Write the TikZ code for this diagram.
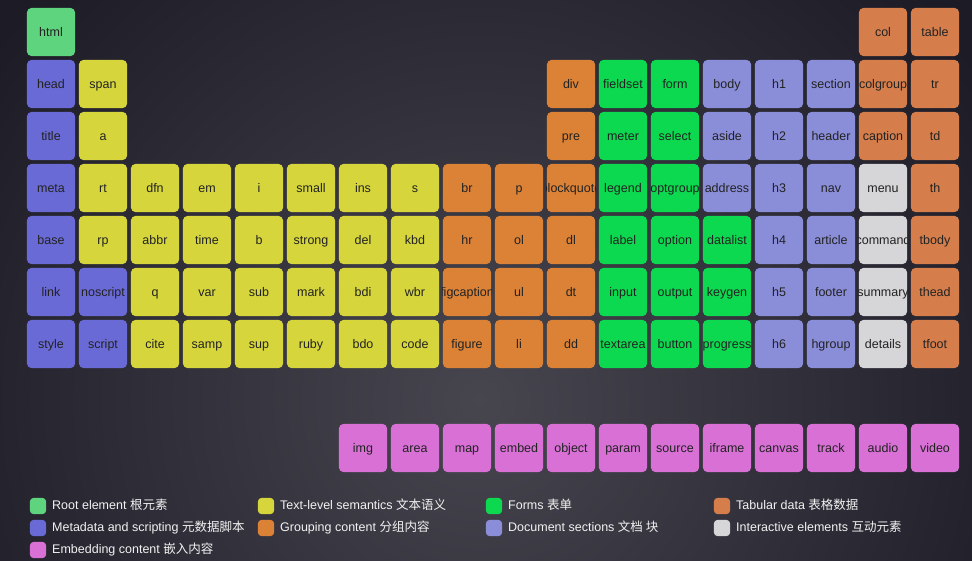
\documentclass[tikz,border=0pt]{standalone}
\usepackage{fontspec}
\setmainfont{Liberation Sans}
\newfontfamily\cjk{Noto Sans CJK SC}
\definecolor{bgin}{HTML}{47464F}
\definecolor{bgout}{HTML}{1D1B26}
\definecolor{kroot}{HTML}{5FD47F}
\definecolor{kmeta}{HTML}{6A6AD6}
\definecolor{ktext}{HTML}{D6D63C}
\definecolor{kgroup}{HTML}{DB8237}
\definecolor{kform}{HTML}{0CD94F}
\definecolor{ksect}{HTML}{8A8DD8}
\definecolor{ktab}{HTML}{D57D4B}
\definecolor{kinter}{HTML}{D6D6D8}
\definecolor{kembed}{HTML}{D870D6}
\definecolor{ink}{HTML}{222222}
\definecolor{legtext}{HTML}{F2F2F2}
\newcommand\htag[4]{%
  \node[cellbox] (c-#4) at ({51+52*(#1-1)},{32+52*(#2-1)}) {};
  \fill[#3, rounded corners=5pt] (c-#4.south west) rectangle (c-#4.north east);
  \begin{scope}
  \clip (c-#4.south west) rectangle (c-#4.north east);
  \node[celltext] (t-#4) at (c-#4) {#4};
  \end{scope}}
\newcommand\legitem[5]{%
  \node[legbox] (l-#4) at ({#1+8},#2) {};
  \fill[#3, rounded corners=4pt] (l-#4.south west) rectangle (l-#4.north east);
  \node[legtext, anchor=west] (lt-#4) at ({#1+22},#2) {#5};}
\begin{document}
\begin{tikzpicture}[x=1pt,y=-1pt,
  cellbox/.style={minimum width=48pt, minimum height=48pt, inner sep=0pt, draw=none},
  celltext/.style={font=\fontsize{12.5}{14}\selectfont, text=ink, inner sep=0pt, text height=10pt, text depth=2pt},
  legbox/.style={minimum width=16pt, minimum height=16pt, inner sep=0pt, draw=none},
  legtext/.style={font=\fontsize{12.5}{14}\selectfont, text=legtext, inner sep=0pt, text height=9pt, text depth=3pt}]
\useasboundingbox (0,0) rectangle (972,560);
\begin{scope}
\clip (0,0) rectangle (972,560);
\fill[bgout] (0,0) rectangle (972,560);
\shade[inner color=bgin, outer color=bgout] (480,400) circle (600);
\end{scope}
% row 1
\htag{1}{1}{kroot}{html}
\htag{17}{1}{ktab}{col}
\htag{18}{1}{ktab}{table}
% row 2
\htag{1}{2}{kmeta}{head}
\htag{2}{2}{ktext}{span}
\htag{11}{2}{kgroup}{div}
\htag{12}{2}{kform}{fieldset}
\htag{13}{2}{kform}{form}
\htag{14}{2}{ksect}{body}
\htag{15}{2}{ksect}{h1}
\htag{16}{2}{ksect}{section}
\htag{17}{2}{ktab}{colgroup}
\htag{18}{2}{ktab}{tr}
% row 3
\htag{1}{3}{kmeta}{title}
\htag{2}{3}{ktext}{a}
\htag{11}{3}{kgroup}{pre}
\htag{12}{3}{kform}{meter}
\htag{13}{3}{kform}{select}
\htag{14}{3}{ksect}{aside}
\htag{15}{3}{ksect}{h2}
\htag{16}{3}{ksect}{header}
\htag{17}{3}{ktab}{caption}
\htag{18}{3}{ktab}{td}
% row 4
\htag{1}{4}{kmeta}{meta}
\htag{2}{4}{ktext}{rt}
\htag{3}{4}{ktext}{dfn}
\htag{4}{4}{ktext}{em}
\htag{5}{4}{ktext}{i}
\htag{6}{4}{ktext}{small}
\htag{7}{4}{ktext}{ins}
\htag{8}{4}{ktext}{s}
\htag{9}{4}{kgroup}{br}
\htag{10}{4}{kgroup}{p}
\htag{11}{4}{kgroup}{blockquote}
\htag{12}{4}{kform}{legend}
\htag{13}{4}{kform}{optgroup}
\htag{14}{4}{ksect}{address}
\htag{15}{4}{ksect}{h3}
\htag{16}{4}{ksect}{nav}
\htag{17}{4}{kinter}{menu}
\htag{18}{4}{ktab}{th}
% row 5
\htag{1}{5}{kmeta}{base}
\htag{2}{5}{ktext}{rp}
\htag{3}{5}{ktext}{abbr}
\htag{4}{5}{ktext}{time}
\htag{5}{5}{ktext}{b}
\htag{6}{5}{ktext}{strong}
\htag{7}{5}{ktext}{del}
\htag{8}{5}{ktext}{kbd}
\htag{9}{5}{kgroup}{hr}
\htag{10}{5}{kgroup}{ol}
\htag{11}{5}{kgroup}{dl}
\htag{12}{5}{kform}{label}
\htag{13}{5}{kform}{option}
\htag{14}{5}{kform}{datalist}
\htag{15}{5}{ksect}{h4}
\htag{16}{5}{ksect}{article}
\htag{17}{5}{kinter}{command}
\htag{18}{5}{ktab}{tbody}
% row 6
\htag{1}{6}{kmeta}{link}
\htag{2}{6}{kmeta}{noscript}
\htag{3}{6}{ktext}{q}
\htag{4}{6}{ktext}{var}
\htag{5}{6}{ktext}{sub}
\htag{6}{6}{ktext}{mark}
\htag{7}{6}{ktext}{bdi}
\htag{8}{6}{ktext}{wbr}
\htag{9}{6}{kgroup}{figcaption}
\htag{10}{6}{kgroup}{ul}
\htag{11}{6}{kgroup}{dt}
\htag{12}{6}{kform}{input}
\htag{13}{6}{kform}{output}
\htag{14}{6}{kform}{keygen}
\htag{15}{6}{ksect}{h5}
\htag{16}{6}{ksect}{footer}
\htag{17}{6}{kinter}{summary}
\htag{18}{6}{ktab}{thead}
% row 7
\htag{1}{7}{kmeta}{style}
\htag{2}{7}{kmeta}{script}
\htag{3}{7}{ktext}{cite}
\htag{4}{7}{ktext}{samp}
\htag{5}{7}{ktext}{sup}
\htag{6}{7}{ktext}{ruby}
\htag{7}{7}{ktext}{bdo}
\htag{8}{7}{ktext}{code}
\htag{9}{7}{kgroup}{figure}
\htag{10}{7}{kgroup}{li}
\htag{11}{7}{kgroup}{dd}
\htag{12}{7}{kform}{textarea}
\htag{13}{7}{kform}{button}
\htag{14}{7}{kform}{progress}
\htag{15}{7}{ksect}{h6}
\htag{16}{7}{ksect}{hgroup}
\htag{17}{7}{kinter}{details}
\htag{18}{7}{ktab}{tfoot}
% embedding row
\htag{7}{9}{kembed}{img}
\htag{8}{9}{kembed}{area}
\htag{9}{9}{kembed}{map}
\htag{10}{9}{kembed}{embed}
\htag{11}{9}{kembed}{object}
\htag{12}{9}{kembed}{param}
\htag{13}{9}{kembed}{source}
\htag{14}{9}{kembed}{iframe}
\htag{15}{9}{kembed}{canvas}
\htag{16}{9}{kembed}{track}
\htag{17}{9}{kembed}{audio}
\htag{18}{9}{kembed}{video}
% legend
\legitem{30}{506}{kroot}{root}{Root element {\cjk 根元素}}
\legitem{30}{528}{kmeta}{meta}{Metadata and scripting {\cjk 元数据脚本}}
\legitem{30}{550}{kembed}{embed}{Embedding content {\cjk 嵌入内容}}
\legitem{258}{506}{ktext}{text}{Text-level semantics {\cjk 文本语义}}
\legitem{258}{528}{kgroup}{group}{Grouping content {\cjk 分组内容}}
\legitem{486}{506}{kform}{form}{Forms {\cjk 表单}}
\legitem{486}{528}{ksect}{sect}{Document sections {\cjk 文档 块}}
\legitem{714}{506}{ktab}{tab}{Tabular data {\cjk 表格数据}}
\legitem{714}{528}{kinter}{inter}{Interactive elements {\cjk 互动元素}}
\end{tikzpicture}
\end{document}
